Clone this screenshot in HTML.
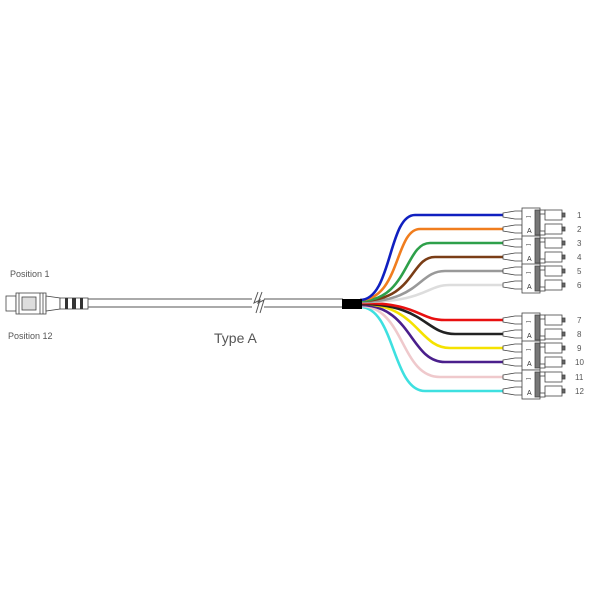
<!DOCTYPE html>
<html><head><meta charset="utf-8"><style>
html,body{margin:0;padding:0;background:#fff;}
svg{display:block;font-family:"Liberation Sans",sans-serif;}
</style></head><body>
<svg width="600" height="600" viewBox="0 0 600 600" xmlns="http://www.w3.org/2000/svg">
<rect width="600" height="600" fill="#fff"/>
<text x="10" y="277" font-size="9" fill="#555">Position 1</text>
<text x="8" y="339" font-size="9" fill="#555">Position 12</text>
<text x="214" y="343" font-size="14" fill="#555">Type A</text>
<!-- MPO connector -->
<g stroke="#444" stroke-width="0.8" fill="#fff">
<rect x="6" y="296" width="10" height="15"/>
<rect x="16" y="293" width="30" height="21"/>
<rect x="22" y="297" width="14" height="13" fill="#ddd"/>
<line x1="19" y1="293" x2="19" y2="314"/><line x1="40" y1="293" x2="40" y2="314"/><line x1="43" y1="293" x2="43" y2="314"/>
<path d="M46 296 L60 298 L60 309 L46 311 Z"/>
<rect x="60" y="298" width="28" height="11"/>
</g>
<rect x="65" y="298" width="3" height="11" fill="#333"/>
<rect x="72" y="298" width="4" height="11" fill="#333"/>
<rect x="80" y="298" width="3" height="11" fill="#333"/>
<!-- cable -->
<line x1="88" y1="299" x2="343" y2="299" stroke="#555" stroke-width="1"/>
<line x1="88" y1="307" x2="343" y2="307" stroke="#555" stroke-width="1"/>
<rect x="252" y="294" width="12" height="18" fill="#fff"/>
<path d="M258 292 L254 303 L260 300 L256 313" fill="none" stroke="#555" stroke-width="1"/>
<path d="M262 292 L258 303 L264 300 L260 313" fill="none" stroke="#555" stroke-width="1"/>
<!-- fibers -->
<g fill="none" stroke-width="2.6">
<path d="M360 307 C395 307,392 391,425 391 L505 391" stroke="#3ee0e0"/>
<path d="M360 306 C405 306,400 377,440 377 L505 377" stroke="#efc9cc"/>
<path d="M360 305 C412 305,410 362,445 362 L505 362" stroke="#4a1f8c"/>
<path d="M360 304 C418 304,418 348,450 348 L505 348" stroke="#f5e200"/>
<path d="M360 304 C425 304,425 334,455 334 L505 334" stroke="#222"/>
<path d="M360 303 C420 303,418 320,445 320 L505 320" stroke="#e81010"/>
<path d="M360 302 C428 302,425 285,450 285 L505 285" stroke="#ddd"/>
<path d="M360 302 C420 302,418 271,445 271 L505 271" stroke="#999"/>
<path d="M360 301 C415 301,410 257,435 257 L505 257" stroke="#7a3d16"/>
<path d="M360 301 C408 301,405 243,430 243 L505 243" stroke="#2ea04a"/>
<path d="M360 300 C400 300,395 229,420 229 L505 229" stroke="#f07d1e"/>
<path d="M360 300 C392 300,388 215,415 215 L505 215" stroke="#1020c0"/>
</g>
<rect x="342" y="299" width="20" height="10" fill="#000"/>
<!-- LC connectors -->
<g id="dup" stroke="#444" stroke-width="0.8" fill="#fff">
<path d="M503 213 L515 211 L522 211 L522 219 L515 219 L503 217 Z"/>
<path d="M503 227 L515 225 L522 225 L522 233 L515 233 L503 231 Z"/>
<rect x="522" y="208" width="18" height="29"/>
<rect x="535" y="210" width="5" height="25" fill="#777"/>
<rect x="540" y="210" width="5" height="4"/><rect x="540" y="231" width="5" height="4"/>
<rect x="545" y="210" width="17" height="10"/>
<rect x="545" y="224" width="17" height="10"/>
<rect x="562" y="213" width="3" height="4" fill="#666"/>
<rect x="562" y="227" width="3" height="4" fill="#666"/>
<text x="526" y="219" font-size="6" fill="#333" stroke="none">ꟷ</text>
<text x="527" y="233" font-size="7" fill="#333" stroke="none">A</text>
</g>
<use href="#dup" y="28"/>
<use href="#dup" y="56"/>
<use href="#dup" y="105"/>
<use href="#dup" y="133"/>
<use href="#dup" y="162"/>
<g font-size="8" fill="#555">
<text x="577" y="218">1</text><text x="577" y="232">2</text>
<text x="577" y="246">3</text><text x="577" y="260">4</text>
<text x="577" y="274">5</text><text x="577" y="288">6</text>
<text x="577" y="323">7</text><text x="577" y="337">8</text>
<text x="577" y="351">9</text><text x="575" y="365">10</text>
<text x="575" y="380">11</text><text x="575" y="394">12</text>
</g>
</svg>
</body></html>
